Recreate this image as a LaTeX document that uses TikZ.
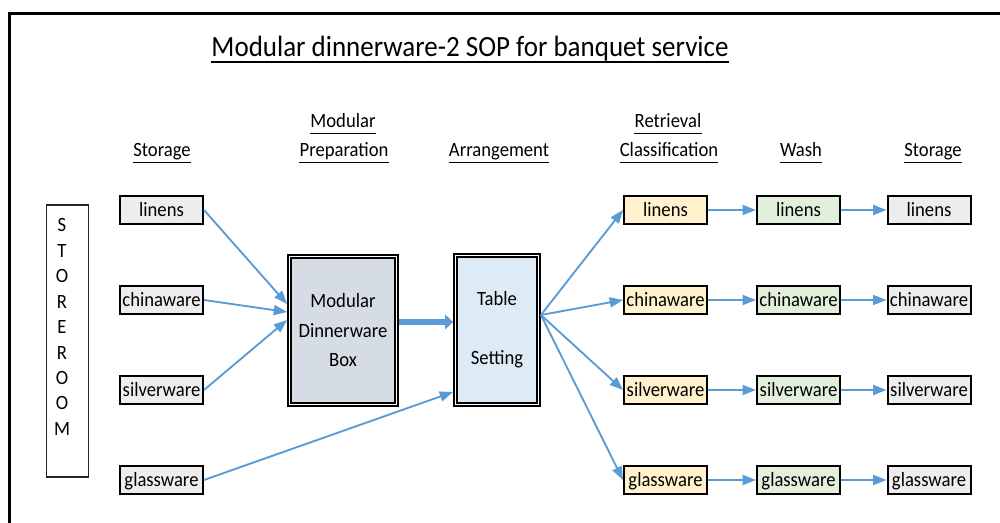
\documentclass[tikz,border=0pt]{standalone}
\usepackage{fontspec}
\setmainfont{Carlito}[FakeStretch=0.92]
\usetikzlibrary{arrows.meta,calc}
\definecolor{flow}{HTML}{5B9BD5}
\definecolor{storegray}{HTML}{EDEDED}
\definecolor{retrieve}{HTML}{FFF2CC}
\definecolor{washgreen}{HTML}{E2EFDA}
\definecolor{boxgray}{HTML}{D6DCE4}
\definecolor{setblue}{HTML}{DDEBF7}

\begin{document}
\begin{tikzpicture}[x=0.75pt,y=-0.75pt,
  txt/.style={font=\fontsize{15.2}{18}\selectfont},
  head/.style={txt, anchor=base, inner sep=0pt},
  ul/.style={line width=1.1pt},
  item/.style={txt, draw=black, line width=1.5pt, minimum width=62.25pt,
    minimum height=21pt, inner sep=0pt, text height=12.5pt, text depth=2.5pt},
  bigbox/.style={txt, draw=black, line width=1.35pt, double=white,
    double distance=0.75pt, outer sep=1.7pt, align=center,
    font=\fontsize{15.2}{22.1}\selectfont},
  flowarrow/.style={draw=flow, line width=1.4pt,
    -{Triangle[length=10pt,width=7.5pt]}},
  fatarrow/.style={draw=flow, line width=4.8pt,
    -{Triangle[length=6pt,width=11pt]}}]

\useasboundingbox (0,0) rectangle (1000,523);

% page frame (top and left edges)
\draw[line width=2.25pt, line join=miter] (1000,14) -- (9,14) -- (9,523);

% title
\node[anchor=base, inner sep=0pt, font=\fontsize{22}{26}\selectfont] (title) at (470,57)
  {Modular dinnerware-2 SOP for banquet service};
\draw[line width=1.5pt] ([yshift=-3.5pt]title.base west) -- ([yshift=-3.5pt]title.base east);

% column headings
\node[head] (h1)  at (162,157) {Storage};
\node[head] (h2a) at (343,128) {Modular};
\node[head] (h2b) at (344,157) {Preparation};
\node[head] (h3)  at (499,157) {Arrangement};
\node[head] (h4a) at (668,128) {Retrieval};
\node[head] (h4b) at (669,157) {Classification};
\node[head] (h5)  at (801,157) {Wash};
\node[head] (h6)  at (933,157) {Storage};
\foreach \n in {h1,h2a,h2b,h3,h4a,h4b,h5,h6}
  \draw[ul] ([yshift=-4pt]\n.base west) -- ([yshift=-4pt]\n.base east);

% storeroom
\node[draw=black!85, line width=0.9pt, minimum width=31.5pt, minimum height=204pt,
  inner sep=0pt] (store) at (67.5,341) {};
\node[txt, align=center, font=\fontsize{15.2}{19.1}\selectfont] (storetext) at (62,327)
  {S\\T\\O\\R\\E\\R\\O\\O\\M};

% storage column
\node[item, fill=storegray] (sl) at (161.5,210) {linens};
\node[item, fill=storegray] (sc) at (161.5,300) {chinaware};
\node[item, fill=storegray] (ss) at (161.5,390) {silverware};
\node[item, fill=storegray] (sg) at (161.5,480) {glassware};

% preparation and arrangement boxes
\node[bigbox, fill=boxgray, minimum width=80.5pt, minimum height=111.3pt] (mdb) at (343,330.5)
  {Modular\\Dinnerware\\Box};
\node[bigbox, fill=setblue, minimum width=62.5pt, minimum height=112pt] (ts) at (497,330)
  {Table\\[22pt]Setting};

% retrieval, wash and return-to-storage columns
\foreach \y/\t/\k in {210/linens/l, 300/chinaware/c, 390/silverware/s, 480/glassware/g}{
  \node[item, fill=retrieve]  (r\k) at (665.5,\y) {\t};
  \node[item, fill=washgreen] (w\k) at (798.5,\y) {\t};
  \node[item, fill=storegray] (e\k) at (929,\y) {\t};
}

% storage to preparation / arrangement
\draw[flowarrow] (sl.east) -- ($(mdb.west)+(0,-26.5)$);
\draw[flowarrow] (sc.east) -- ($(mdb.west)+(0,-18.5)$);
\draw[flowarrow] (ss.east) -- ($(mdb.west)+(0,-10.5)$);
\draw[flowarrow] (sg.east) -- ($(ts.west)+(0,62)$);

% preparation to arrangement
\draw[fatarrow] ($(mdb.east)+(0,-8.5)$) -- ($(ts.west)+(0,-8)$);

% arrangement fans out to retrieval
\coordinate (fan) at ($(ts.east)+(0,-15)$);
\foreach \k in {l,c,s,g}{
  \draw[flowarrow] (fan) -- (r\k.west);
  \draw[flowarrow] (r\k.east) -- (w\k.west);
  \draw[flowarrow] (w\k.east) -- (e\k.west);
}
\end{tikzpicture}
\end{document}
